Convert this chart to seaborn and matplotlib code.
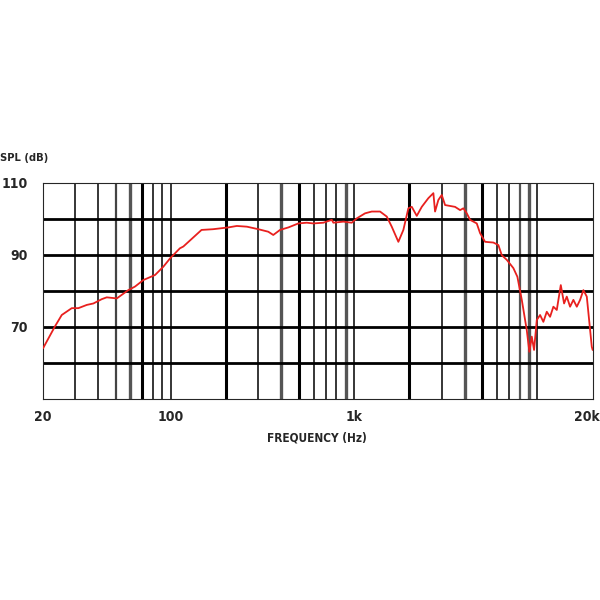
import matplotlib
matplotlib.use("Agg")
import matplotlib.pyplot as plt
import matplotlib.transforms as mtransforms
import seaborn as sns
import pandas as pd

# Frequency response (Hz, dB SPL)
freq_hz = [20.1, 23.3, 25.4, 28.8, 31.3, 34.8, 37.8, 42.0, 44.7, 50.7,
           58.6, 63.8, 70.8, 82.0, 91.0, 99.0, 112, 117, 147, 170,
           206, 229, 260, 300, 340, 362, 394, 438, 496, 551,
           599, 679, 755, 770, 873, 970, 1033, 1146, 1247, 1384,
           1506, 1603, 1742, 1855, 1975, 2062, 2195, 2337, 2538, 2704,
           2762, 2878, 3004, 3132, 3550, 3782, 3942, 4114, 4288, 4664,
           4862, 5176, 5744, 6118, 6384, 6800, 7388, 7768, 8210, 8740,
           9030, 9308, 9578, 9910, 10328, 10766, 11236, 11712, 12208, 12742,
           13398, 13964, 14446, 15058, 15696, 16382, 17076, 17800, 18574, 19776,
           20000]
spl_db = [64.1, 70.1, 73.3, 75.2, 75.2, 76.1, 76.5, 77.7, 78.2, 77.9,
          80.2, 81.2, 83.0, 84.4, 86.7, 89.0, 91.8, 92.3, 96.9, 97.1,
          97.6, 98.0, 97.8, 97.1, 96.4, 95.5, 96.9, 97.6, 98.7, 98.9,
          98.7, 98.9, 99.7, 98.9, 99.2, 98.9, 100.1, 101.5, 102.0, 102.0,
          100.6, 97.8, 93.6, 96.9, 102.9, 103.3, 100.8, 103.3, 105.7, 107.1,
          102.0, 105.2, 106.6, 103.8, 103.3, 102.4, 102.9, 101.5, 99.7, 98.7,
          96.0, 93.6, 93.4, 92.7, 89.9, 88.6, 86.3, 83.9, 77.5, 69.1,
          63.1, 67.3, 63.6, 71.9, 73.3, 71.4, 74.2, 72.8, 75.6, 74.7,
          81.6, 76.5, 78.4, 75.6, 77.5, 75.6, 77.5, 80.2, 78.4, 64.5,
          63.6]

x_ticks = [20, 100, 1000, 20000]
x_tick_labels = ["20", "100", "1k", "20k"]
y_grid = [60, 70, 80, 90, 100]
y_tick_labels = ["", "70", "", "90", ""]

df = pd.DataFrame({"freq": freq_hz, "spl": spl_db})

sns.set_style("white")
plt.rcParams["font.family"] = ["DejaVu Sans"]
plt.rcParams["font.stretch"] = "condensed"

fig = plt.figure(figsize=(6, 6), dpi=100)
ax = fig.add_axes([0.0712, 0.335, 0.9166, 0.3605])

# log grid: heavier strokes where the scan shows them
heavy = {70: ("black", 2.2), 200: ("black", 2.2), 500: ("black", 2.2),
         2000: ("black", 2.2), 5000: ("black", 2.2),
         60: ("#555555", 2.4), 400: ("#555555", 2.4), 900: ("#555555", 2.4),
         4000: ("#555555", 2.4), 9000: ("#555555", 2.4), 50: ("#444444", 1.6),
         8000: ("#555555", 1.6)}
for dec in [10, 100, 1000]:
    for n in range(2, 11):
        f = n * dec
        if f <= 20 or f >= 20000:
            continue
        c, w = heavy.get(f, ("black", 1.1))
        ax.axvline(f, color=c, lw=w, zorder=1)
for y in y_grid:
    ax.axhline(y, color="black", lw=2.0, zorder=1)

sns.lineplot(data=df, x="freq", y="spl", ax=ax, color="#e8201e", lw=1.3,
             zorder=3, estimator=None, sort=False)

ax.set_xscale("log")
ax.set_xlim(20, 20000)
ax.set_ylim(50, 110)
ax.set_xticks(x_ticks)
ax.set_xticklabels(x_tick_labels)
ax.set_xticks([], minor=True)
ax.set_yticks(y_grid + [110])
ax.set_yticklabels(y_tick_labels + ["110"])
ax.tick_params(axis="both", length=0, labelsize=10)
ax.tick_params(axis="x", pad=8)
ax.tick_params(axis="y", pad=11)
for lab in ax.get_xticklabels() + ax.get_yticklabels():
    lab.set_fontweight("bold")
    lab.set_fontstretch("condensed")
# nudge the last frequency label in from the right edge
last = ax.get_xticklabels()[-1]
last.set_transform(last.get_transform() +
                   mtransforms.ScaledTranslation(-4 / 72, 0, fig.dpi_scale_trans))

ax.set_xlabel("FREQUENCY (Hz)", fontsize=8.5, fontweight="bold", fontstretch="condensed")
ax.xaxis.set_label_coords(0.4987, -0.151)
ax.set_ylabel("")
ax.text(-0.0776, 1.114, "SPL (dB)", transform=ax.transAxes, ha="left",
        va="center", fontsize=8, fontweight="bold", fontstretch="condensed")

fig.savefig("out.png", dpi=100)
